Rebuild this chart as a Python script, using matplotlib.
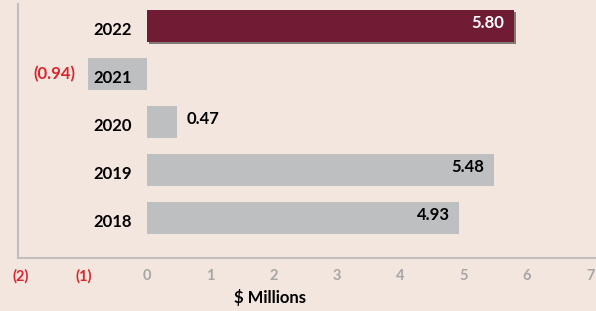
import matplotlib
matplotlib.use("Agg")
import matplotlib.pyplot as plt
import matplotlib.patheffects as pe

years = ["2018", "2019", "2020", "2021", "2022"]
values = [4.93, 5.48, 0.47, -0.94, 5.80]
xticks = [-2, -1, 0, 1, 2, 3, 4, 5, 6, 7]
xticklabels = ["(2)", "(1)", "0", "1", "2", "3", "4", "5", "6", "7"]

BG = "#F3E6DE"
MAROON = "#701C35"
GRAY = "#BEBFC1"
RED = "#D9262E"
TICKGRAY = "#A6A6A6"

plt.rcParams['font.family'] = ['Lato', 'DejaVu Sans']

fig = plt.figure(figsize=(5.96, 3.11), dpi=100, facecolor=BG)
ax = fig.add_axes([18/596, 1-258/311, 1-18/596, (258-4)/311], facecolor=BG)

ypos = list(range(len(years)))
colors = [MAROON if y == "2022" else GRAY for y in years]
bars = ax.barh(ypos, values, height=0.667, color=colors, zorder=2)
for b, y in zip(bars, years):
    if y == "2022":
        b.set_path_effects([pe.SimplePatchShadow(offset=(1.5, -1.5), shadow_rgbFace="#333333", alpha=0.6), pe.Normal()])

# value labels
for y, v in zip(ypos, values):
    if v < 0:
        ax.annotate(f"({abs(v):.2f})", (v, y), xytext=(-9, 0), textcoords="offset points",
                    ha="right", va="center", color=RED, fontsize=12, fontweight="bold", zorder=4)
    elif v < 1:
        ax.annotate(f"{v:.2f}", (v, y), xytext=(7, 2), textcoords="offset points",
                    ha="left", va="center", color="black", fontsize=12, fontweight="bold", zorder=4)
    else:
        c = "white" if v == max(values) else "black"
        ax.annotate(f"{v:.2f}", (v, y), xytext=(-7, 2), textcoords="offset points",
                    ha="right", va="center", color=c, fontsize=12, fontweight="bold", zorder=4)

# category labels
for y, name in zip(ypos, years):
    ax.annotate(name, (0, y), xytext=(-11, -3), textcoords="offset points",
                ha="right", va="center", color="black", fontsize=12, fontweight="bold", zorder=4)

ax.set_xlim(-2.04, 7.09)
ax.set_ylim(-0.83, 4.46)
ax.set_yticks([])
ax.set_xticks(xticks, labels=xticklabels, fontsize=10.5, fontweight="bold")
ax.tick_params(axis="x", length=0, pad=8)
for lab, t in zip(ax.get_xticklabels(), xticks):
    lab.set_color(RED if t < 0 else TICKGRAY)

for s in ["top", "right"]:
    ax.spines[s].set_visible(False)
for s in ["left", "bottom"]:
    ax.spines[s].set_color("#BFBFBF")
    ax.spines[s].set_linewidth(1.5)

ax.set_xlabel("$ Millions", fontsize=12, fontweight="bold", color="black")
ax.xaxis.set_label_coords((270-18)/578, -(289-258)/254, transform=ax.transAxes)

fig.savefig("out.png", dpi=100, facecolor=BG)
